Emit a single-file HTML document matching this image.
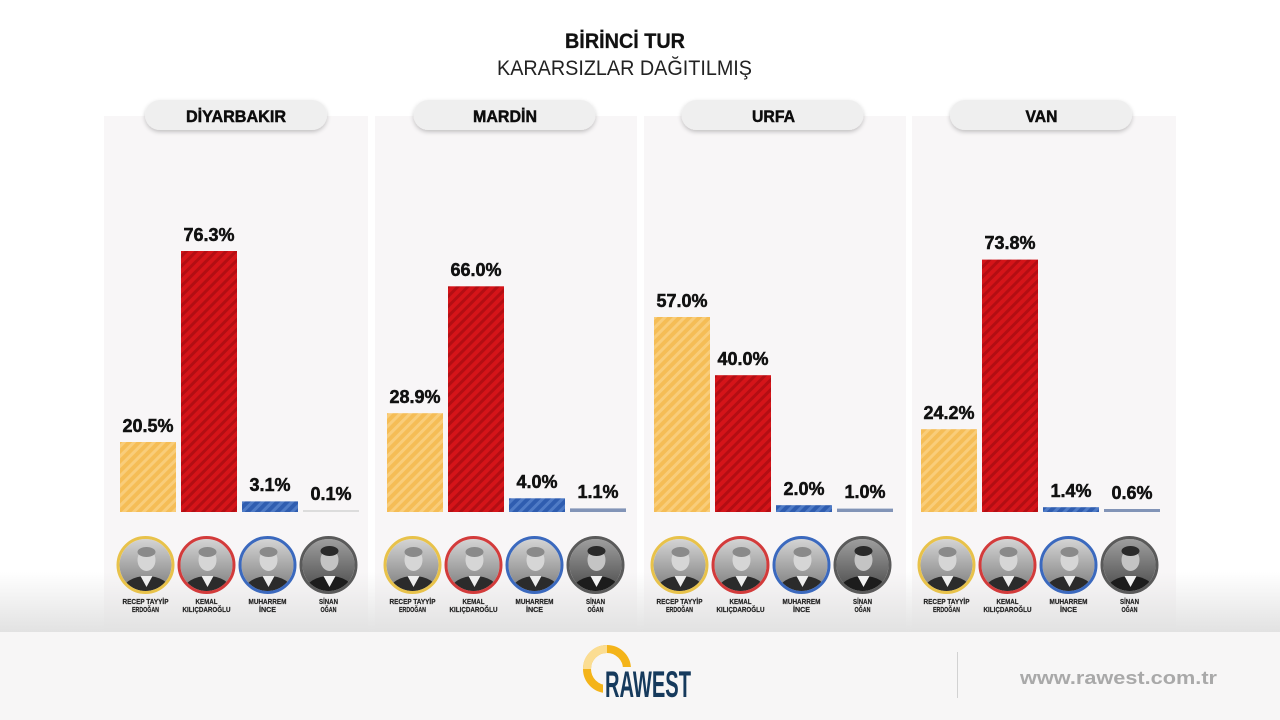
<!DOCTYPE html>
<html><head><meta charset="utf-8"><style>
html,body{margin:0;padding:0;background:#fff;}
svg{display:block;}
text{font-family:"Liberation Sans","DejaVu Sans",sans-serif;}
</style></head><body>
<svg width="1280" height="720" viewBox="0 0 1280 720" xmlns="http://www.w3.org/2000/svg">
<defs>
  <pattern id="hy" width="7" height="7" patternUnits="userSpaceOnUse" patternTransform="rotate(45)">
    <rect width="7" height="7" fill="#f5bd56"/><rect width="3" height="7" fill="#f9cd7a"/>
  </pattern>
  <pattern id="hr" width="7" height="7" patternUnits="userSpaceOnUse" patternTransform="rotate(45)">
    <rect width="7" height="7" fill="#d51419"/><rect width="3" height="7" fill="#b30e13"/>
  </pattern>
  <pattern id="hb" width="7" height="7" patternUnits="userSpaceOnUse" patternTransform="rotate(45)">
    <rect width="7" height="7" fill="#2f5db0"/><rect width="3" height="7" fill="#4f7bc6"/>
  </pattern>
  <linearGradient id="fade" x1="0" y1="0" x2="0" y2="1">
    <stop offset="0" stop-color="#e2e2e2" stop-opacity="0"/>
    <stop offset="1" stop-color="#e2e2e2" stop-opacity="1"/>
  </linearGradient>
  <linearGradient id="pbg" x1="0" y1="0" x2="0" y2="1">
    <stop offset="0" stop-color="#d6d6d6"/>
    <stop offset="1" stop-color="#7a7a7a"/>
  </linearGradient>
  <linearGradient id="pbg2" x1="0" y1="0" x2="0" y2="1">
    <stop offset="0" stop-color="#a0a0a0"/>
    <stop offset="1" stop-color="#4a4a4a"/>
  </linearGradient>
  <clipPath id="cc"><circle cx="0" cy="0" r="26"/></clipPath>
  <filter id="sh" x="-10%" y="-30%" width="120%" height="180%">
    <feDropShadow dx="0" dy="2" stdDeviation="2" flood-color="#000" flood-opacity="0.22"/>
  </filter>
  <g id="person">
    <g clip-path="url(#cc)">
      <rect x="-27" y="-27" width="54" height="54" fill="url(#pbg)"/>
      <ellipse cx="1" cy="-5" rx="9" ry="11" fill="#d6d6d6"/>
      <ellipse cx="1" cy="-13" rx="9" ry="5" fill="#8a8a8a"/>
      <ellipse cx="1" cy="26" rx="24" ry="15" fill="#2b2b2b"/>
      <path d="M-5 11 L1 22 L7 11 Z" fill="#eeeeee"/>
    </g>
  </g>
  <g id="person2">
    <g clip-path="url(#cc)">
      <rect x="-27" y="-27" width="54" height="54" fill="url(#pbg2)"/>
      <ellipse cx="1" cy="-5" rx="9" ry="11" fill="#c4c4c4"/>
      <ellipse cx="1" cy="-14" rx="9" ry="5" fill="#2a2a2a"/>
      <ellipse cx="1" cy="26" rx="24" ry="15" fill="#1c1c1c"/>
      <path d="M-5 11 L1 22 L7 11 Z" fill="#f2f2f2"/>
    </g>
  </g>
</defs>

<rect width="1280" height="720" fill="#ffffff"/>

<!-- Title -->
<text x="625" y="48" text-anchor="middle" font-size="21" font-weight="bold" fill="#111" stroke="#111" stroke-width="0.3" textLength="120" lengthAdjust="spacingAndGlyphs">BİRİNCİ TUR</text>
<text x="624.5" y="75" text-anchor="middle" font-size="21" fill="#222" textLength="255" lengthAdjust="spacingAndGlyphs">KARARSIZLAR DAĞITILMIŞ</text>

<!-- Panels -->
<rect x="104" y="116" width="264" height="520" fill="#f8f6f7"/>
<rect x="375" y="116" width="262" height="520" fill="#f8f6f7"/>
<rect x="644" y="116" width="262" height="520" fill="#f8f6f7"/>
<rect x="912" y="116" width="264" height="520" fill="#f8f6f7"/>

<!-- Pills -->
<g filter="url(#sh)">
  <rect x="145" y="100" width="182" height="30" rx="15" fill="#efefef"/>
  <rect x="413.5" y="100" width="182" height="30" rx="15" fill="#efefef"/>
  <rect x="681.5" y="100" width="182" height="30" rx="15" fill="#efefef"/>
  <rect x="950" y="100" width="182" height="30" rx="15" fill="#efefef"/>
</g>
<g font-size="17" font-weight="bold" fill="#0d0d0d" stroke="#0d0d0d" stroke-width="0.5" text-anchor="middle">
  <text x="236" y="122" textLength="100" lengthAdjust="spacingAndGlyphs">DİYARBAKIR</text>
  <text x="505" y="122" textLength="64" lengthAdjust="spacingAndGlyphs">MARDİN</text>
  <text x="773.5" y="122" textLength="43" lengthAdjust="spacingAndGlyphs">URFA</text>
  <text x="1041.5" y="122" textLength="32" lengthAdjust="spacingAndGlyphs">VAN</text>
</g>

<!-- Bars: baseline 512 -->
<rect x="120" y="442" width="56" height="70" fill="url(#hy)"/>
<rect x="181" y="251" width="56" height="261" fill="url(#hr)"/>
<rect x="242" y="501.4" width="56" height="10.6" fill="url(#hb)"/>
<rect x="303" y="510" width="56" height="2" fill="#dcdcdc"/>

<rect x="387" y="413.2" width="56" height="98.8" fill="url(#hy)"/>
<rect x="448" y="286.3" width="56" height="225.7" fill="url(#hr)"/>
<rect x="509" y="498.3" width="56" height="13.7" fill="url(#hb)"/>
<rect x="570" y="508.4" width="56" height="3.6" fill="#8294b7"/>

<rect x="654" y="317" width="56" height="195" fill="url(#hy)"/>
<rect x="715" y="375.2" width="56" height="136.8" fill="url(#hr)"/>
<rect x="776" y="505.2" width="56" height="6.8" fill="url(#hb)"/>
<rect x="837" y="508.6" width="56" height="3.4" fill="#8294b7"/>

<rect x="921" y="429.2" width="56" height="82.8" fill="url(#hy)"/>
<rect x="982" y="259.6" width="56" height="252.4" fill="url(#hr)"/>
<rect x="1043" y="507.2" width="56" height="4.8" fill="url(#hb)"/>
<rect x="1104" y="509" width="56" height="3" fill="#8294b7"/>

<!-- Value labels -->
<g font-size="18" font-weight="bold" fill="#111" stroke="#111" stroke-width="0.5" text-anchor="middle">
  <text x="148" y="432">20.5%</text>
  <text x="209" y="241">76.3%</text>
  <text x="270" y="491">3.1%</text>
  <text x="331" y="500">0.1%</text>

  <text x="415" y="403">28.9%</text>
  <text x="476" y="276">66.0%</text>
  <text x="537" y="488">4.0%</text>
  <text x="598" y="498">1.1%</text>

  <text x="682" y="307">57.0%</text>
  <text x="743" y="365">40.0%</text>
  <text x="804" y="495">2.0%</text>
  <text x="865" y="498">1.0%</text>

  <text x="949" y="419">24.2%</text>
  <text x="1010" y="249">73.8%</text>
  <text x="1071" y="497">1.4%</text>
  <text x="1132" y="499">0.6%</text>
</g>

<!-- Bottom fade -->
<rect x="0" y="572" width="1280" height="60" fill="url(#fade)"/>

<!-- Candidate circles -->
<g>
  <g transform="translate(145.5,565)"><use href="#person"/><circle r="27.5" fill="none" stroke="#e8c24a" stroke-width="3"/></g>
  <g transform="translate(206.5,565)"><use href="#person"/><circle r="27.5" fill="none" stroke="#d33b3b" stroke-width="3"/></g>
  <g transform="translate(267.5,565)"><use href="#person"/><circle r="27.5" fill="none" stroke="#3b69be" stroke-width="3"/></g>
  <g transform="translate(328.5,565)"><use href="#person2"/><circle r="27.5" fill="none" stroke="#5a5a5a" stroke-width="3"/></g>

  <g transform="translate(412.5,565)"><use href="#person"/><circle r="27.5" fill="none" stroke="#e8c24a" stroke-width="3"/></g>
  <g transform="translate(473.5,565)"><use href="#person"/><circle r="27.5" fill="none" stroke="#d33b3b" stroke-width="3"/></g>
  <g transform="translate(534.5,565)"><use href="#person"/><circle r="27.5" fill="none" stroke="#3b69be" stroke-width="3"/></g>
  <g transform="translate(595.5,565)"><use href="#person2"/><circle r="27.5" fill="none" stroke="#5a5a5a" stroke-width="3"/></g>

  <g transform="translate(679.5,565)"><use href="#person"/><circle r="27.5" fill="none" stroke="#e8c24a" stroke-width="3"/></g>
  <g transform="translate(740.5,565)"><use href="#person"/><circle r="27.5" fill="none" stroke="#d33b3b" stroke-width="3"/></g>
  <g transform="translate(801.5,565)"><use href="#person"/><circle r="27.5" fill="none" stroke="#3b69be" stroke-width="3"/></g>
  <g transform="translate(862.5,565)"><use href="#person2"/><circle r="27.5" fill="none" stroke="#5a5a5a" stroke-width="3"/></g>

  <g transform="translate(946.5,565)"><use href="#person"/><circle r="27.5" fill="none" stroke="#e8c24a" stroke-width="3"/></g>
  <g transform="translate(1007.5,565)"><use href="#person"/><circle r="27.5" fill="none" stroke="#d33b3b" stroke-width="3"/></g>
  <g transform="translate(1068.5,565)"><use href="#person"/><circle r="27.5" fill="none" stroke="#3b69be" stroke-width="3"/></g>
  <g transform="translate(1129.5,565)"><use href="#person2"/><circle r="27.5" fill="none" stroke="#5a5a5a" stroke-width="3"/></g>
</g>

<!-- Candidate names -->
<g font-size="7.5" font-weight="bold" fill="#222" stroke="#222" stroke-width="0.2" text-anchor="middle">
  <g>
    <text x="145.5" y="604" textLength="46" lengthAdjust="spacingAndGlyphs">RECEP TAYYİP</text>
    <text x="145.5" y="612" textLength="27" lengthAdjust="spacingAndGlyphs">ERDOĞAN</text>
    <text x="206.5" y="604" textLength="22" lengthAdjust="spacingAndGlyphs">KEMAL</text>
    <text x="206.5" y="612" textLength="48" lengthAdjust="spacingAndGlyphs">KILIÇDAROĞLU</text>
    <text x="267.5" y="604" textLength="38" lengthAdjust="spacingAndGlyphs">MUHARREM</text>
    <text x="267.5" y="612" textLength="17" lengthAdjust="spacingAndGlyphs">İNCE</text>
    <text x="328.5" y="604" textLength="19" lengthAdjust="spacingAndGlyphs">SİNAN</text>
    <text x="328.5" y="612" textLength="16" lengthAdjust="spacingAndGlyphs">OĞAN</text>
  </g>
  <g transform="translate(267,0)">
    <text x="145.5" y="604" textLength="46" lengthAdjust="spacingAndGlyphs">RECEP TAYYİP</text>
    <text x="145.5" y="612" textLength="27" lengthAdjust="spacingAndGlyphs">ERDOĞAN</text>
    <text x="206.5" y="604" textLength="22" lengthAdjust="spacingAndGlyphs">KEMAL</text>
    <text x="206.5" y="612" textLength="48" lengthAdjust="spacingAndGlyphs">KILIÇDAROĞLU</text>
    <text x="267.5" y="604" textLength="38" lengthAdjust="spacingAndGlyphs">MUHARREM</text>
    <text x="267.5" y="612" textLength="17" lengthAdjust="spacingAndGlyphs">İNCE</text>
    <text x="328.5" y="604" textLength="19" lengthAdjust="spacingAndGlyphs">SİNAN</text>
    <text x="328.5" y="612" textLength="16" lengthAdjust="spacingAndGlyphs">OĞAN</text>
  </g>
  <g transform="translate(534,0)">
    <text x="145.5" y="604" textLength="46" lengthAdjust="spacingAndGlyphs">RECEP TAYYİP</text>
    <text x="145.5" y="612" textLength="27" lengthAdjust="spacingAndGlyphs">ERDOĞAN</text>
    <text x="206.5" y="604" textLength="22" lengthAdjust="spacingAndGlyphs">KEMAL</text>
    <text x="206.5" y="612" textLength="48" lengthAdjust="spacingAndGlyphs">KILIÇDAROĞLU</text>
    <text x="267.5" y="604" textLength="38" lengthAdjust="spacingAndGlyphs">MUHARREM</text>
    <text x="267.5" y="612" textLength="17" lengthAdjust="spacingAndGlyphs">İNCE</text>
    <text x="328.5" y="604" textLength="19" lengthAdjust="spacingAndGlyphs">SİNAN</text>
    <text x="328.5" y="612" textLength="16" lengthAdjust="spacingAndGlyphs">OĞAN</text>
  </g>
  <g transform="translate(801,0)">
    <text x="145.5" y="604" textLength="46" lengthAdjust="spacingAndGlyphs">RECEP TAYYİP</text>
    <text x="145.5" y="612" textLength="27" lengthAdjust="spacingAndGlyphs">ERDOĞAN</text>
    <text x="206.5" y="604" textLength="22" lengthAdjust="spacingAndGlyphs">KEMAL</text>
    <text x="206.5" y="612" textLength="48" lengthAdjust="spacingAndGlyphs">KILIÇDAROĞLU</text>
    <text x="267.5" y="604" textLength="38" lengthAdjust="spacingAndGlyphs">MUHARREM</text>
    <text x="267.5" y="612" textLength="17" lengthAdjust="spacingAndGlyphs">İNCE</text>
    <text x="328.5" y="604" textLength="19" lengthAdjust="spacingAndGlyphs">SİNAN</text>
    <text x="328.5" y="612" textLength="16" lengthAdjust="spacingAndGlyphs">OĞAN</text>
  </g>
</g>

<!-- Footer -->
<rect x="0" y="632" width="1280" height="88" fill="#f7f6f6"/>
<line x1="957.5" y1="652" x2="957.5" y2="698" stroke="#d2d2d2" stroke-width="1"/>
<text x="1020" y="684" font-size="18" font-weight="bold" fill="#a9a9a9" textLength="197" lengthAdjust="spacingAndGlyphs">www.rawest.com.tr</text>

<!-- Logo -->
<circle cx="607" cy="669" r="20" fill="none" stroke="#f4b419" stroke-width="8"/>
<path d="M587 669 A20 20 0 0 1 607 649" fill="none" stroke="#fbdd92" stroke-width="8"/>
<rect x="603" y="667" width="90" height="32" fill="#f7f6f6"/>
<text x="605" y="697" font-size="37" font-weight="bold" fill="#163a5c" textLength="86" lengthAdjust="spacingAndGlyphs">RAWEST</text>
</svg>
</body></html>
